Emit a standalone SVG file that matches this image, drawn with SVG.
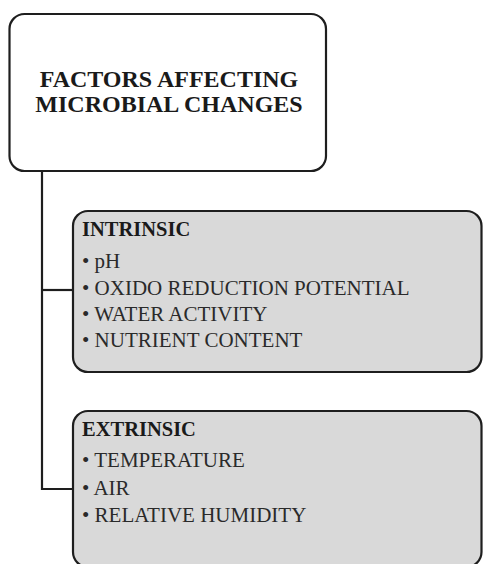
<svg xmlns="http://www.w3.org/2000/svg" width="483" height="564" viewBox="0 0 483 564">
<style>
.box{stroke:#1e1e1e;stroke-width:2.2}
.root{fill:#ffffff}
.cat{fill:#d9d9d9}
.title{font-family:"Liberation Serif","Times New Roman",serif;font-weight:bold;font-size:24px;fill:#1a1a1a;text-anchor:middle}
.head{font-family:"Liberation Serif","Times New Roman",serif;font-weight:bold;font-size:20.5px;fill:#1a1a1a}
.item{font-family:"Liberation Serif","Times New Roman",serif;font-size:21px;fill:#2a2a2a}
.conn{fill:none;stroke:#1e1e1e;stroke-width:2.2}
</style>
<rect width="483" height="564" fill="#ffffff"/>
<g id="connectors">
<path class="conn" d="M42 171 V489 H73"/>
<path class="conn" d="M42 290 H73"/>
</g>
<g id="root">
<rect class="box root" x="9.5" y="14" width="316.5" height="157" rx="15"/>
<text class="title" x="169" y="87">FACTORS AFFECTING</text>
<text class="title" x="169" y="112">MICROBIAL CHANGES</text>
</g>
<g id="intrinsic">
<rect class="box cat" x="73" y="211" width="408.5" height="161" rx="15"/>
<text class="head" x="82" y="236">INTRINSIC</text>
<text class="item" x="82" y="268">• pH</text>
<text class="item" x="82" y="295">• OXIDO REDUCTION POTENTIAL</text>
<text class="item" x="82" y="321">• WATER ACTIVITY</text>
<text class="item" x="82" y="347">• NUTRIENT CONTENT</text>
</g>
<g id="extrinsic">
<rect class="box cat" x="73" y="411" width="408.5" height="156" rx="15"/>
<text class="head" x="82" y="436">EXTRINSIC</text>
<text class="item" x="82" y="467">• TEMPERATURE</text>
<text class="item" x="82" y="495">• AIR</text>
<text class="item" x="82" y="522">• RELATIVE HUMIDITY</text>
</g>
</svg>
